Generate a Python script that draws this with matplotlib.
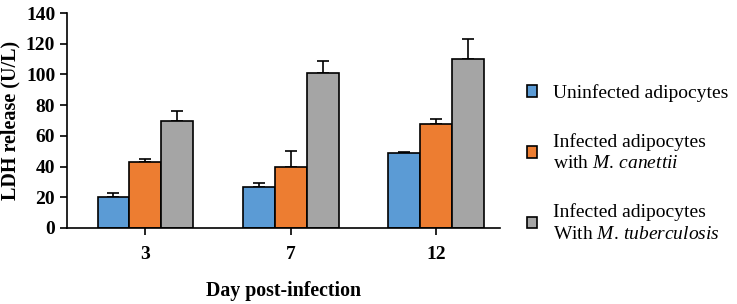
import numpy as np
import matplotlib
matplotlib.use('Agg')
import matplotlib.pyplot as plt
from matplotlib.patches import Patch

plt.rcParams['font.family'] = 'Liberation Serif'
plt.rcParams['mathtext.fontset'] = 'custom'
plt.rcParams['mathtext.rm'] = 'Liberation Serif'
plt.rcParams['mathtext.it'] = 'Liberation Serif:italic'

days = ['3', '7', '12']
uninfected = [20, 27, 49]
uninfected_err = [3, 2, 0.8]
canettii = [43, 40, 68]
canettii_err = [2, 10, 3]
tuberculosis = [70, 101, 110]
tuberculosis_err = [6, 8, 13]

labels = ['Uninfected adipocytes',
          'Infected adipocytes\nwith $\\mathit{M.\\,canettii}$',
          'Infected adipocytes\nWith $\\mathit{M.\\,tuberculosis}$']
colors = ['#5B9BD5', '#ED7D31', '#A5A5A5']

fig = plt.figure(figsize=(7.37, 3.04), dpi=100)
ax = fig.add_axes([67 / 737, 1 - 228 / 304, 433 / 737, 215 / 304])

x = np.arange(len(days))
w = 0.22
series = [(uninfected, uninfected_err), (canettii, canettii_err),
          (tuberculosis, tuberculosis_err)]
for i, (vals, errs) in enumerate(series):
    pos = x + (i - 1) * w
    ax.bar(pos, vals, w, color=colors[i], edgecolor='black', linewidth=1.2,
           zorder=2)
    ax.errorbar(pos, vals, yerr=[np.zeros(len(errs)), errs], fmt='none',
                ecolor='black', elinewidth=1.2, capsize=4, capthick=1.2,
                zorder=1)

ax.set_xlim(-0.54, 2.44)
ax.set_ylim(0, 140)
ax.set_yticks(range(0, 141, 20))
ax.set_xticks(x)
ax.set_xticklabels(days)
for s in ['top', 'right']:
    ax.spines[s].set_visible(False)
for s in ['left', 'bottom']:
    ax.spines[s].set_linewidth(1.2)
ax.tick_params(axis='both', length=5, width=1.2, labelsize=14)
ax.tick_params(axis='x', pad=8)
for t in ax.get_xticklabels() + ax.get_yticklabels():
    t.set_fontweight('bold')

ax.set_ylabel('LDH release (U/L)', fontsize=14.5, fontweight='bold', labelpad=4)
ax.set_xlabel('Day post-infection', fontsize=14.3, fontweight='bold', labelpad=13)

handles = [Patch(facecolor=c, edgecolor='black', linewidth=1.2) for c in colors]
leg = fig.legend(handles, labels, loc='upper left',
                 bbox_to_anchor=(519 / 737, 1 - 76 / 304),
                 frameon=False, fontsize=14, handlelength=0.55, handleheight=0.55,
                 handletextpad=0.8, labelspacing=1.6, borderaxespad=0)
for t in leg.get_texts():
    t.set_linespacing(1.35)

fig.savefig('out.png', dpi=100)
